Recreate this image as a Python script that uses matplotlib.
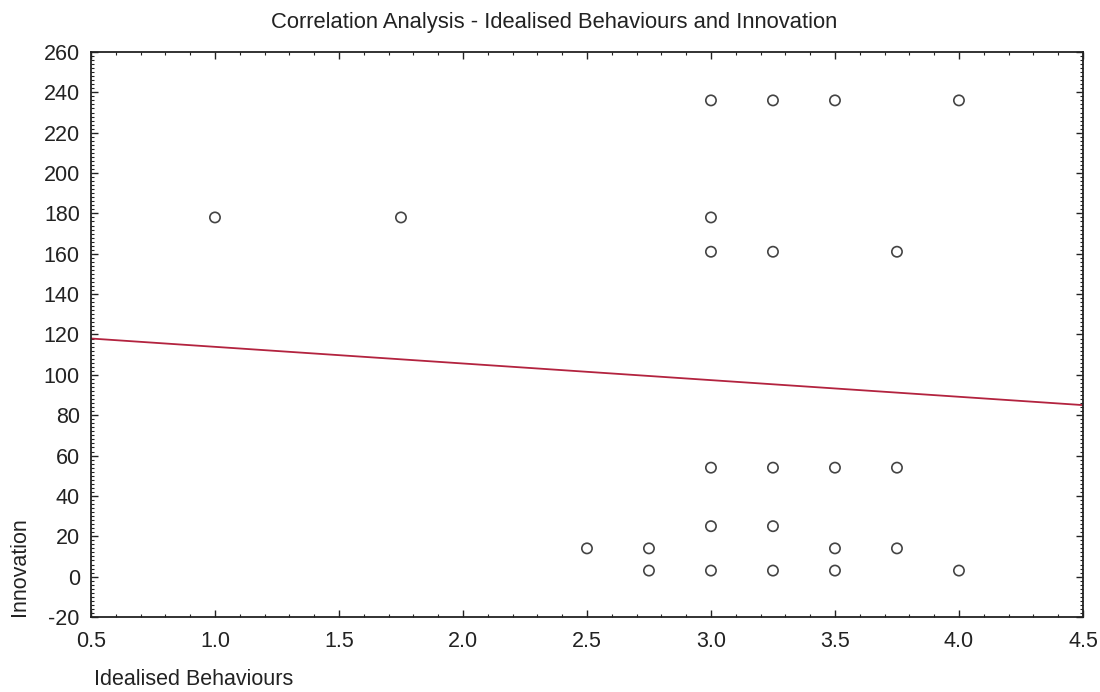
import matplotlib.pyplot as plt
from matplotlib.ticker import MultipleLocator

plt.rcParams['font.family'] = ['Liberation Sans', 'DejaVu Sans']
plt.rcParams['axes.unicode_minus'] = False

# scatter data (Idealised Behaviours vs Innovation)
ib_score = [1.0, 1.75,
            3.0, 3.0, 3.0, 3.0, 3.0, 3.0,
            3.25, 3.25, 3.25, 3.25, 3.25,
            3.5, 3.5, 3.5, 3.5,
            3.75, 3.75, 3.75,
            4.0, 4.0,
            2.5,
            2.75, 2.75]
innovation = [178, 178,
              236, 178, 161, 54, 25, 3,
              236, 161, 54, 25, 3,
              236, 54, 14, 3,
              161, 54, 14,
              236, 3,
              14,
              14, 3]

# fitted regression line endpoints
fit_x = [0.5, 4.5]
fit_y = [118, 85]

fig = plt.figure(figsize=(11, 6.92), dpi=100)
ax = fig.add_axes([0.0827, 0.1084, 0.9018, 0.8165])

ax.plot(fit_x, fit_y, color='#b3233f', linewidth=1.3, zorder=2)
ax.scatter(ib_score, innovation, s=55, facecolors='none', edgecolors='#444444',
           linewidths=1.2, zorder=3)

ax.set_xlim(0.5, 4.5)
ax.set_ylim(-20, 260)
ax.xaxis.set_major_locator(MultipleLocator(0.5))
ax.xaxis.set_minor_locator(MultipleLocator(0.1))
ax.yaxis.set_major_locator(MultipleLocator(20))
ax.yaxis.set_minor_locator(MultipleLocator(2))
ax.set_xticklabels([f"{v:.1f}" for v in ax.get_xticks()])
ax.tick_params(which='both', direction='in', top=True, right=True, labelsize=15.5,
               color='#222222', labelcolor='#222222')
ax.tick_params(which='major', length=5, width=1)
ax.tick_params(which='minor', length=2.5, width=0.8)
ax.tick_params(axis='x', which='major', pad=10)
ax.tick_params(axis='y', which='major', pad=8)
for sp in ax.spines.values():
    sp.set_linewidth(1.3)
    sp.set_color('#222222')

fig.text(0.504, 0.968, "Correlation Analysis - Idealised Behaviours and Innovation",
         ha='center', va='center', fontsize=15.8, color='#222222')
fig.text(0.085, 0.018, "Idealised Behaviours", ha='left', va='center', fontsize=15.5, color='#222222')
fig.text(0.018, 0.181, "Innovation", rotation=90, ha='center', va='center', fontsize=15.5, color='#222222')

fig.savefig('out.png', dpi=100)
